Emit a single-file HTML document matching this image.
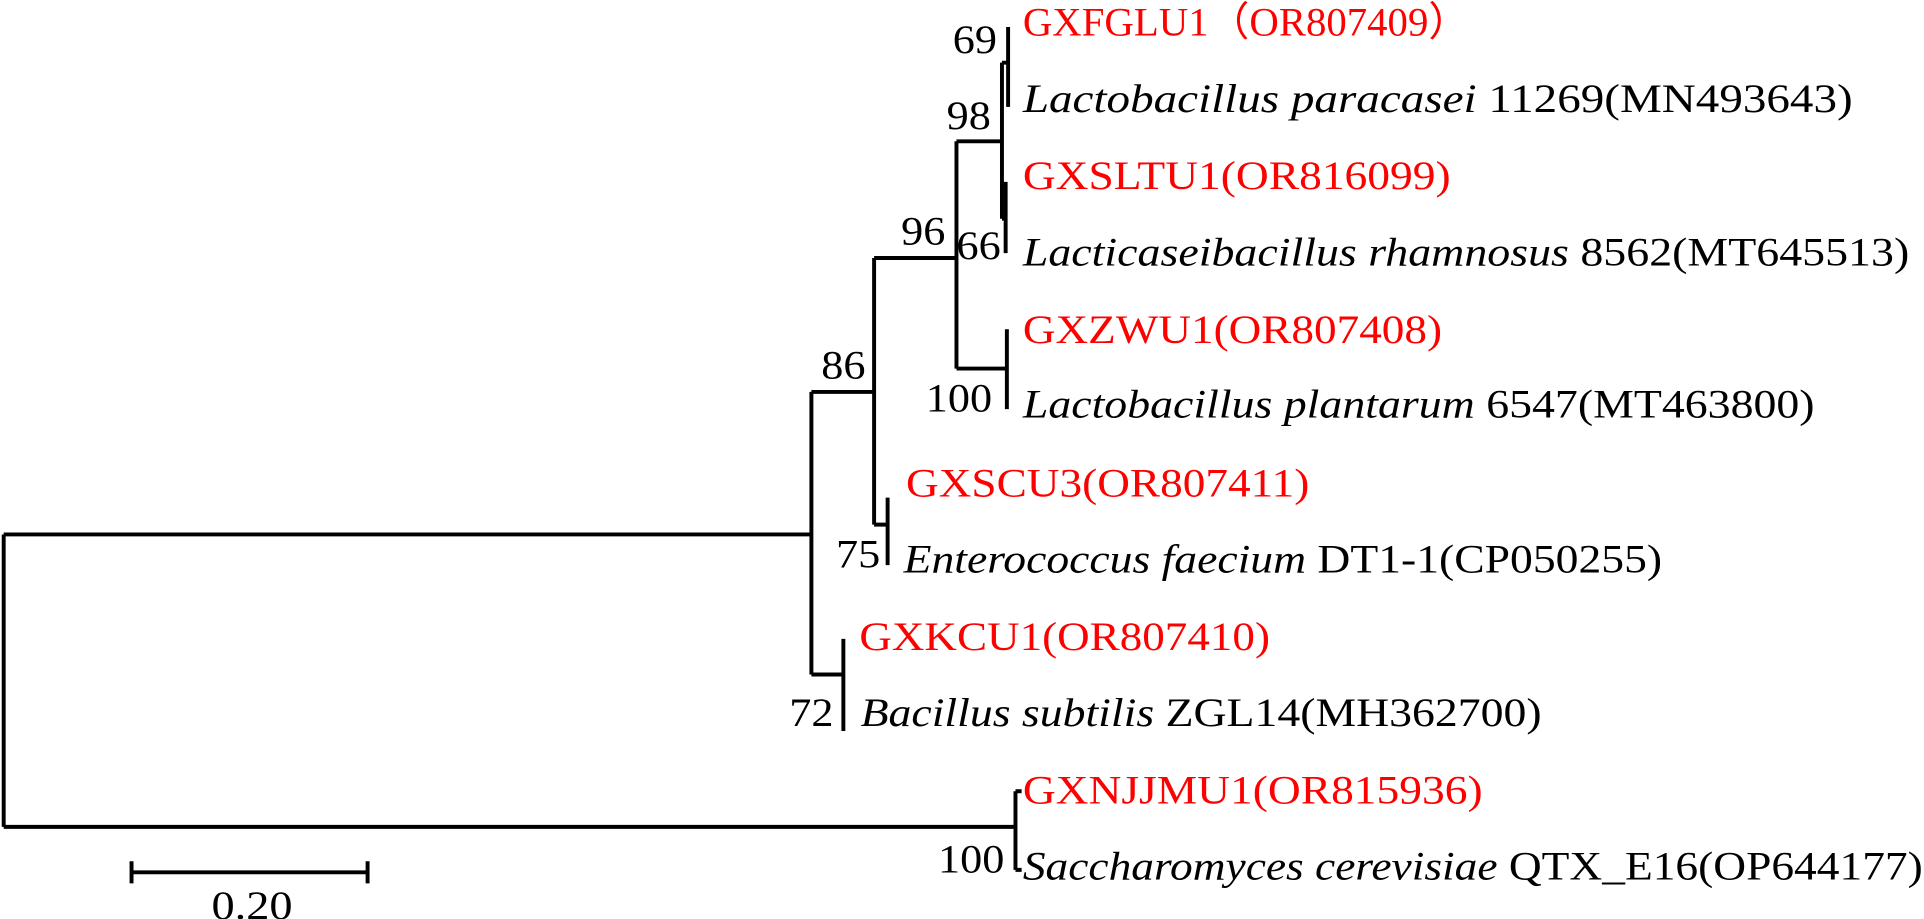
<!DOCTYPE html>
<html><head><meta charset="utf-8"><style>
html,body{margin:0;padding:0;background:#fff;width:1924px;height:919px;overflow:hidden}
svg{display:block}
text{font-family:"Liberation Serif",serif;font-size:33px}
.r{fill:#ff0000}
</style></head><body>
<svg width="1924" height="919" viewBox="0 0 1565 748" preserveAspectRatio="none">
<g stroke="#000" stroke-width="3.2" fill="none">
<path d="M3,435V673M3,435H660M3,673H826"/>
<path d="M660,319V549M660,319H711M660,549H686"/>
<path d="M711,210V427M711,210H778M711,427H722"/>
<path d="M722,405V460"/>
<path d="M778,115V300M778,115H815M778,300H819"/>
<path d="M815,51V178"/>
<path d="M820,22V87M815,51H820"/>
<path d="M818,148V206M815,178H818"/>
<path d="M819,268V333"/>
<path d="M686,520V595"/>
<path d="M826,644V708M826,644H831M826,708H831"/>
<path d="M107,710H299M107,701V719M299,701V719"/>
</g>
<text x="832" y="29" class="r" textLength="363" lengthAdjust="spacingAndGlyphs">GXFGLU1（OR807409）</text>
<text x="832" y="91" textLength="675" lengthAdjust="spacingAndGlyphs"><tspan font-style="italic">Lactobacillus  paracasei</tspan>  11269(MN493643)</text>
<text x="832" y="154" class="r" textLength="348" lengthAdjust="spacingAndGlyphs">GXSLTU1(OR816099)</text>
<text x="832" y="216" textLength="721" lengthAdjust="spacingAndGlyphs"><tspan font-style="italic">Lacticaseibacillus rhamnosus</tspan> 8562(MT645513)</text>
<text x="832" y="279" class="r" textLength="341" lengthAdjust="spacingAndGlyphs">GXZWU1(OR807408)</text>
<text x="832" y="340" textLength="644" lengthAdjust="spacingAndGlyphs"><tspan font-style="italic">Lactobacillus plantarum</tspan> 6547(MT463800)</text>
<text x="737" y="404" class="r" textLength="328" lengthAdjust="spacingAndGlyphs">GXSCU3(OR807411)</text>
<text x="735" y="466" textLength="617" lengthAdjust="spacingAndGlyphs"><tspan font-style="italic">Enterococcus faecium</tspan> DT1-1(CP050255)</text>
<text x="699" y="529" class="r" textLength="334" lengthAdjust="spacingAndGlyphs">GXKCU1(OR807410)</text>
<text x="700" y="591" textLength="554" lengthAdjust="spacingAndGlyphs"><tspan font-style="italic">Bacillus subtilis</tspan> ZGL14(MH362700)</text>
<text x="832" y="654" class="r" textLength="374" lengthAdjust="spacingAndGlyphs">GXNJJMU1(OR815936)</text>
<text x="832" y="716" textLength="732" lengthAdjust="spacingAndGlyphs"><tspan font-style="italic">Saccharomyces cerevisiae</tspan> QTX_E16(OP644177)</text>
<text x="775" y="43" textLength="36" lengthAdjust="spacingAndGlyphs">69</text>
<text x="770" y="105" textLength="36" lengthAdjust="spacingAndGlyphs">98</text>
<text x="733" y="199" textLength="36" lengthAdjust="spacingAndGlyphs">96</text>
<text x="778" y="211" textLength="36" lengthAdjust="spacingAndGlyphs">66</text>
<text x="668" y="308" textLength="36" lengthAdjust="spacingAndGlyphs">86</text>
<text x="753" y="335" textLength="54" lengthAdjust="spacingAndGlyphs">100</text>
<text x="680" y="462" textLength="36" lengthAdjust="spacingAndGlyphs">75</text>
<text x="642" y="591" textLength="36" lengthAdjust="spacingAndGlyphs">72</text>
<text x="763" y="710" textLength="54" lengthAdjust="spacingAndGlyphs">100</text>
<text x="172" y="748" textLength="66" lengthAdjust="spacingAndGlyphs">0.20</text>
</svg>
</body></html>
